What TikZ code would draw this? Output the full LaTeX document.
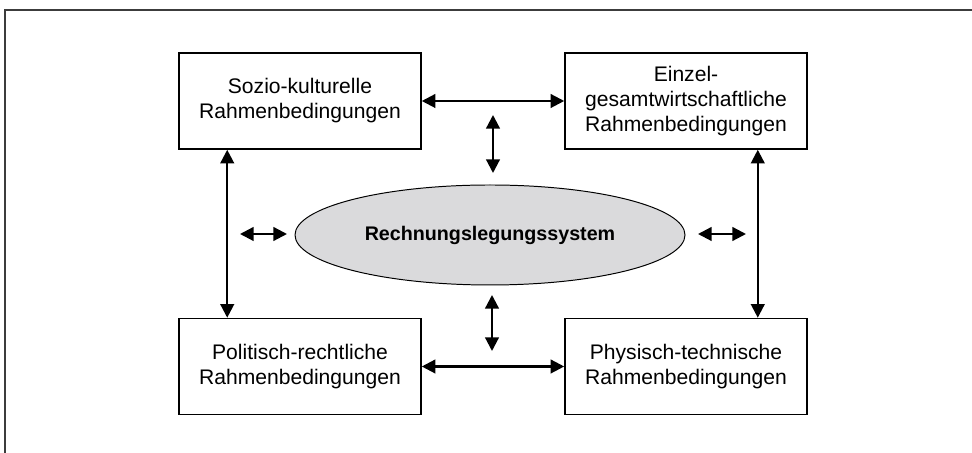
\documentclass[tikz,border=0pt]{standalone}
\usepackage{fontspec}
\setmainfont{Liberation Sans}
\usetikzlibrary{shapes.geometric,arrows.meta}
\definecolor{ellipsegray}{RGB}{218,218,220}
\definecolor{framegray}{RGB}{60,60,60}

\begin{document}
\begin{tikzpicture}[
    rahmen/.style={draw, line width=1.1pt, minimum width=6.05cm, minimum height=2.4cm,
                   align=center, font=\fontsize{15}{17.8}\selectfont, inner sep=0pt},
    kern/.style={draw, ellipse, fill=ellipsegray, line width=0.7pt, minimum width=9.75cm,
                 minimum height=2.5cm, inner sep=0pt, font=\fontsize{14}{16}\selectfont\bfseries},
    pfeil/.style={{Triangle[length=0.34cm,width=0.34cm]}-{Triangle[length=0.34cm,width=0.34cm]}, line width=1.6pt}
  ]
            \useasboundingbox (0,0) rectangle (24.3,11.325);
            \draw[framegray, line width=0.8pt] (0.125,0) |- (24.3,11.075);

            \node[rahmen] (sozio) at (7.5,8.8) {Sozio-kulturelle\\Rahmenbedingungen};
            \node[rahmen] (wirtschaft) at (17.15,8.8) {Einzel-\\gesamtwirtschaftliche\\Rahmenbedingungen};
            \node[rahmen] (politik) at (7.5,2.1625) {Politisch-rechtliche\\Rahmenbedingungen};
            \node[rahmen] (technik) at (17.15,2.1625) {Physisch-technische\\Rahmenbedingungen};
            \node[kern] (rls) at (12.25,5.45) {Rechnungslegungssystem};

            \coordinate (oben1) at (12.325,8.45);
            \coordinate (oben2) at (12.325,7.0);
            \coordinate (unten1) at (12.3,3.95);
            \coordinate (unten2) at (12.3,2.55);
            \coordinate (links1) at (6.0,5.475);
            \coordinate (links2) at (7.175,5.475);
            \coordinate (rechts1) at (17.45,5.475);
            \coordinate (rechts2) at (18.65,5.475);

            \draw[pfeil] (sozio) -- (wirtschaft);
            \draw[pfeil] (politik) -- (technik);
            \draw[pfeil] ([xshift=1.225cm]sozio.south west) -- ([xshift=1.225cm]politik.north west);
            \draw[pfeil] ([xshift=-1.25cm]wirtschaft.south east) -- ([xshift=-1.25cm]technik.north east);
            \draw[pfeil] (oben1) -- (oben2);
            \draw[pfeil] (unten1) -- (unten2);
            \draw[pfeil] (links1) -- (links2);
            \draw[pfeil] (rechts1) -- (rechts2);
        \end{tikzpicture}
\end{document}
